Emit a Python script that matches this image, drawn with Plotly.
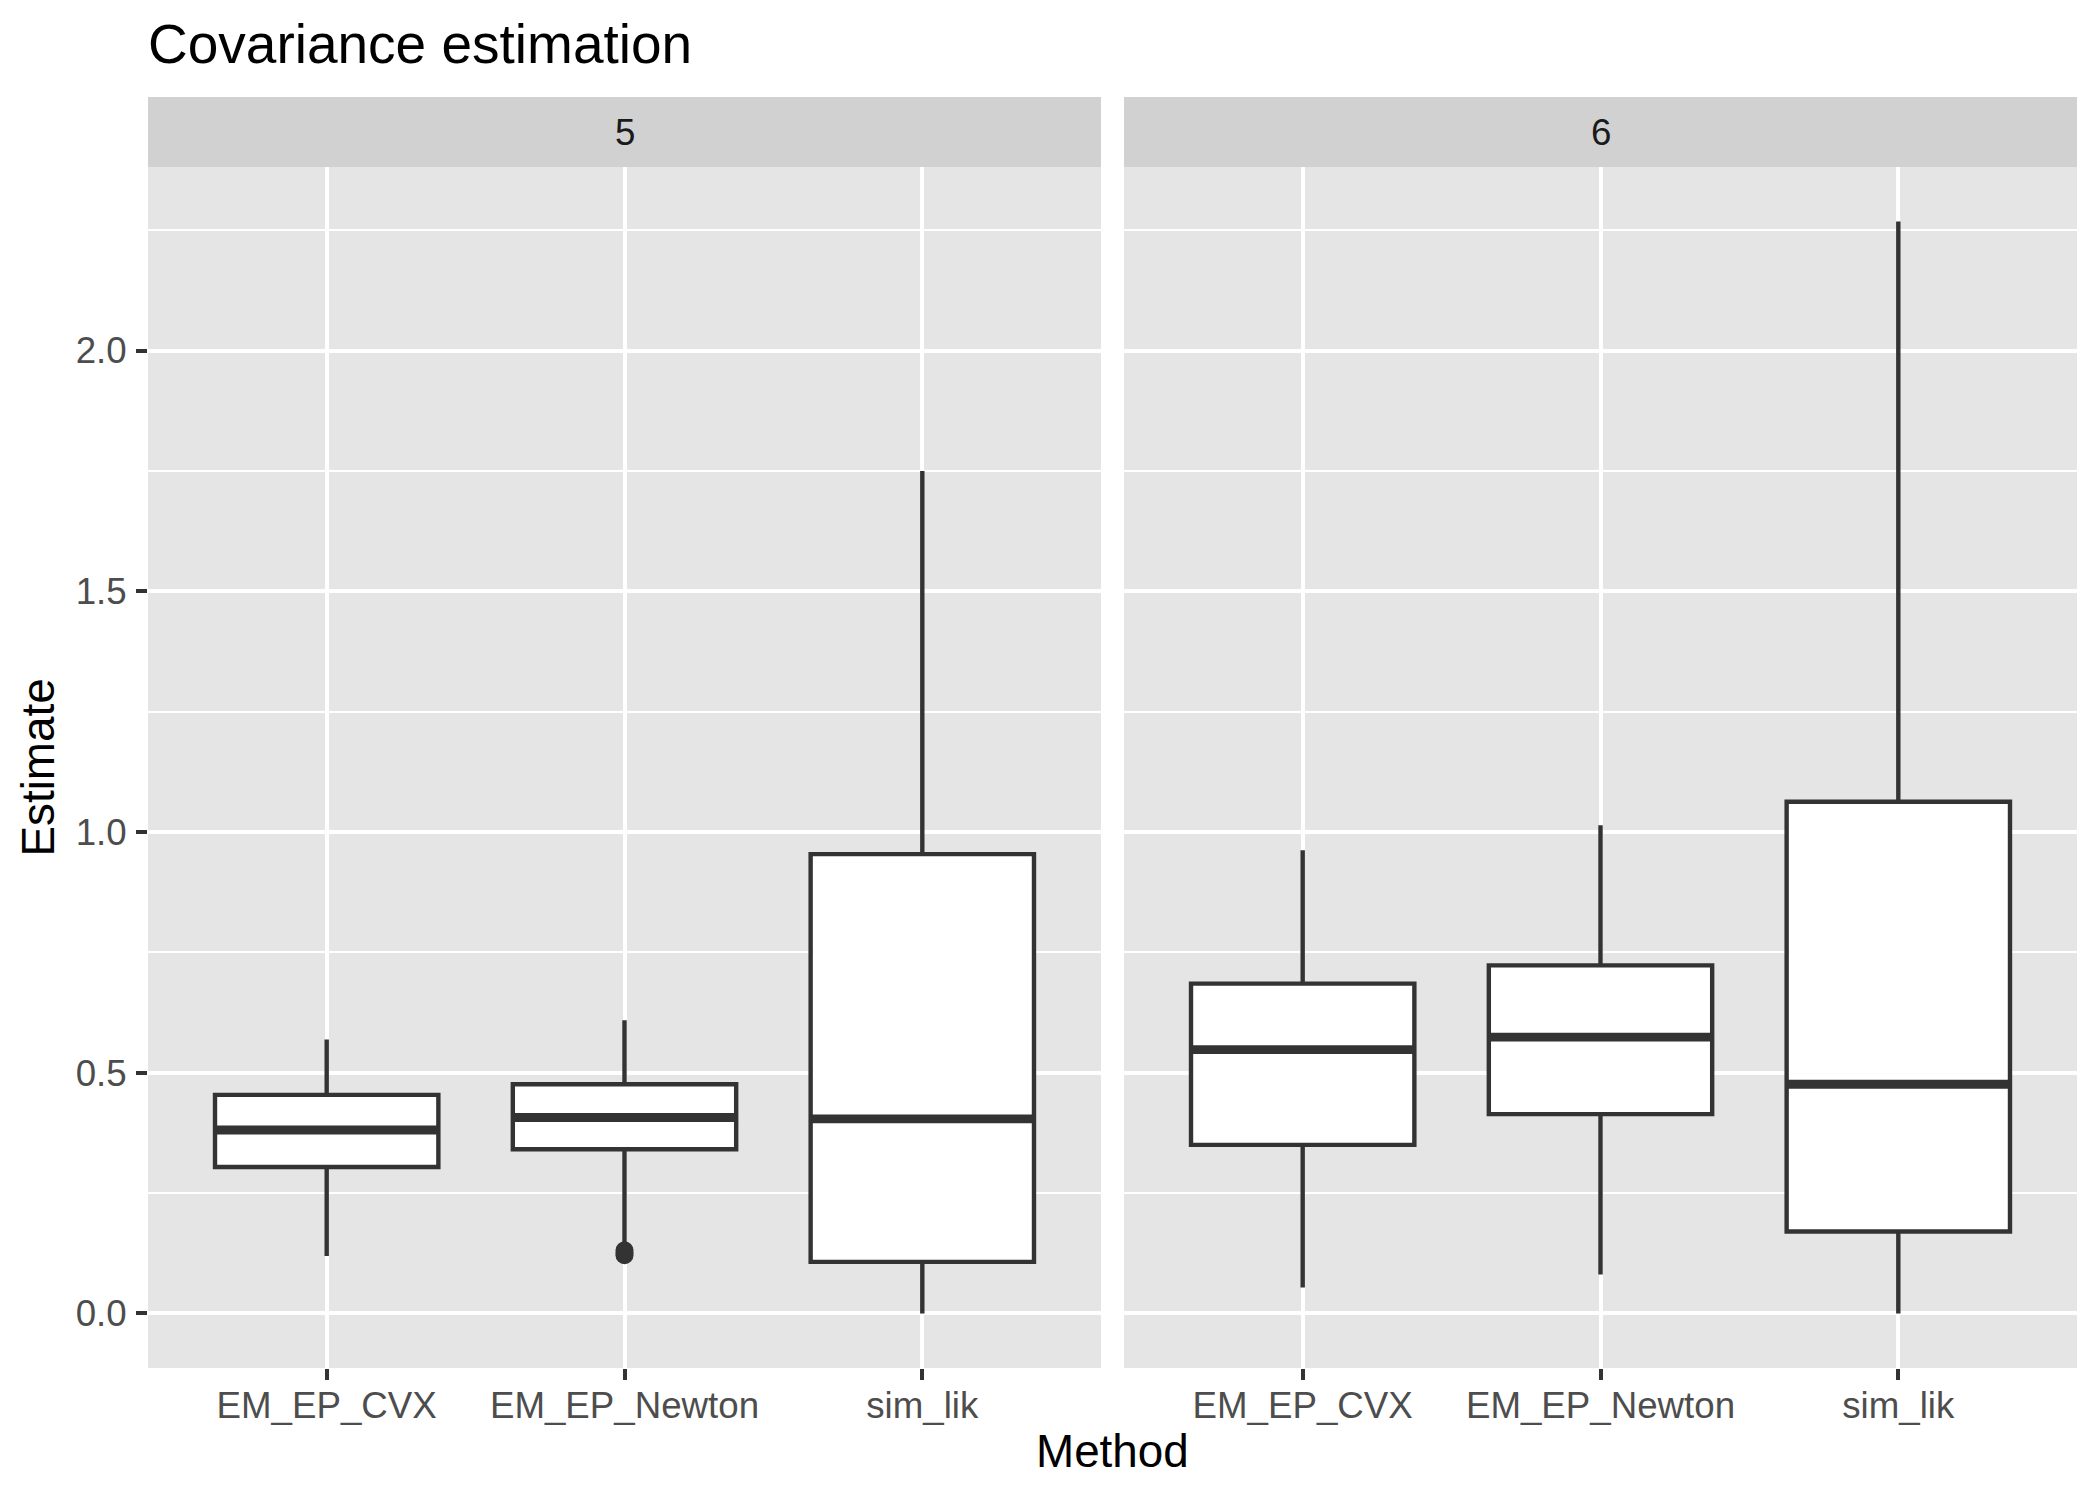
import plotly.graph_objects as go

# ---- data ----
methods = ["EM_EP_CVX", "EM_EP_Newton", "sim_lik"]
facets = ["5", "6"]

lower_5 = [0.119, 0.145, 0.000]
q1_5 = [0.304, 0.341, 0.107]
median_5 = [0.381, 0.407, 0.404]
q3_5 = [0.454, 0.476, 0.954]
upper_5 = [0.569, 0.609, 1.750]
outlier_method_5 = ["EM_EP_Newton", "EM_EP_Newton", "EM_EP_Newton"]
outlier_value_5 = [0.121, 0.126, 0.131]

lower_6 = [0.054, 0.081, 0.000]
q1_6 = [0.350, 0.414, 0.170]
median_6 = [0.548, 0.574, 0.476]
q3_6 = [0.685, 0.723, 1.063]
upper_6 = [0.962, 1.014, 2.268]

y_ticks = [0.0, 0.5, 1.0, 1.5, 2.0]
y_tick_labels = ["0.0", "0.5", "1.0", "1.5", "2.0"]

# ---- styling ----
PAGE_OFF = 8          # default body margin of the html page
W, H = 2100 - 2 * PAGE_OFF, 1500 - 2 * PAGE_OFF
PANEL_BG = "#E5E5E5"
STRIP_BG = "#D1D1D1"
LINE_COL = "#333333"
TXT_COL = "#4D4D4D"
FONT = "Liberation Sans"
BOX_LW = 4.4
MED_LW = 8.8

# target positions in window pixels
px_l1, px_r1 = 148, 1101
px_l2, px_r2 = 1124, 2077
px_top, px_bot = 167, 1368
strip_top = 97


def fx(p):
    return (p - PAGE_OFF) / W


def fy(p):
    return 1 - (p - PAGE_OFF) / H


fig = go.Figure()

panels = [
    ("x", "y", lower_5, q1_5, median_5, q3_5, upper_5),
    ("x2", "y2", lower_6, q1_6, median_6, q3_6, upper_6),
]
for xa, ya, lo, q1, med, q3, up in panels:
    fig.add_trace(go.Box(
        x=methods, q1=q1, median=med, q3=q3, lowerfence=lo, upperfence=up,
        boxpoints=False, fillcolor="white",
        line=dict(color=LINE_COL, width=BOX_LW), whiskerwidth=0,
        xaxis=xa, yaxis=ya, showlegend=False, hoverinfo="skip",
    ))
    fig.add_trace(go.Box(
        x=methods, q1=med, median=med, q3=med, lowerfence=med, upperfence=med,
        boxpoints=False, fillcolor="rgba(0,0,0,0)",
        line=dict(color=LINE_COL, width=MED_LW), whiskerwidth=0,
        xaxis=xa, yaxis=ya, showlegend=False, hoverinfo="skip",
    ))

fig.add_trace(go.Scatter(
    x=outlier_method_5, y=outlier_value_5, mode="markers",
    marker=dict(color=LINE_COL, size=18, line=dict(width=0)),
    xaxis="x", yaxis="y", showlegend=False, hoverinfo="skip",
))

y_range = [-0.1134, 2.3814]
x_range = [-0.6, 2.6]

common_x = dict(
    type="category", categoryorder="array", categoryarray=methods,
    range=x_range, showgrid=True, gridcolor="white", gridwidth=4.2,
    zeroline=False, showline=False, ticks="outside", ticklen=11,
    tickwidth=4, tickcolor=LINE_COL, ticklabelstandoff=-6,
    tickfont=dict(family=FONT, size=36.7, color=TXT_COL),
)
common_y = dict(
    range=y_range, tickvals=y_ticks, ticktext=y_tick_labels,
    showgrid=True, gridcolor="white", gridwidth=4.2, zeroline=False,
    showline=False,
    minor=dict(dtick=0.25, tick0=0, showgrid=True, gridcolor="white",
               gridwidth=2.2, ticks=""),
    domain=[fy(px_bot), fy(px_top)],
)

fig.update_layout(
    width=W, height=H,
    margin=dict(l=0, r=0, t=0, b=0),
    paper_bgcolor="white", plot_bgcolor=PANEL_BG,
    boxmode="overlay", boxgap=0.25, boxgroupgap=0,
    xaxis=dict(common_x, domain=[fx(px_l1), fx(px_r1)], anchor="y"),
    xaxis2=dict(common_x, domain=[fx(px_l2), fx(px_r2)], anchor="y2"),
    yaxis=dict(common_y, anchor="x", ticks="outside", ticklen=11,
               tickwidth=4, tickcolor=LINE_COL, ticklabelstandoff=2,
               tickfont=dict(family=FONT, size=36.7, color=TXT_COL)),
    yaxis2=dict(common_y, anchor="x2", matches="y", showticklabels=False,
                ticks=""),
    title=dict(text="Covariance estimation", x=fx(px_l1), xanchor="left",
               y=fy(44), yanchor="middle", xref="container",
               yref="container",
               font=dict(family=FONT, size=55, color="black")),
)

# strips
for (l, r), lab in zip([(px_l1, px_r1), (px_l2, px_r2)], facets):
    fig.add_shape(type="rect", xref="paper", yref="paper",
                  x0=fx(l), x1=fx(r), y0=fy(px_top), y1=fy(strip_top),
                  fillcolor=STRIP_BG, line=dict(width=0), layer="below")
    fig.add_annotation(text=lab, xref="paper", yref="paper",
                       x=fx((l + r) / 2), y=fy((px_top + strip_top) / 2),
                       xanchor="center", yanchor="middle", showarrow=False,
                       font=dict(family=FONT, size=36.7, color="#1A1A1A"))

fig.add_annotation(text="Method", xref="paper", yref="paper",
                   x=fx((px_l1 + px_r2) / 2), y=fy(1451),
                   xanchor="center", yanchor="middle", showarrow=False,
                   font=dict(family=FONT, size=45.8, color="black"))
fig.add_annotation(text="Estimate", xref="paper", yref="paper",
                   x=fx(38), y=fy((px_top + px_bot) / 2), textangle=-90,
                   xanchor="center", yanchor="middle", showarrow=False,
                   font=dict(family=FONT, size=45.8, color="black"))

fig.write_html("out.html")
